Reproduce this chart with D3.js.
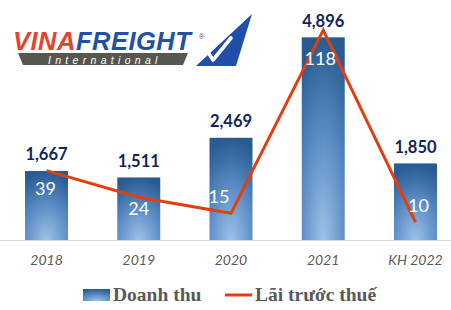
<!DOCTYPE html>
<html>
<head>
<meta charset="utf-8">
<script src="https://cdn.jsdelivr.net/npm/d3@7"></script>
<style>
  html, body { margin: 0; padding: 0; background: #fff; }
  svg { display: block; }
</style>
</head>
<body>
<svg id="chart" width="451" height="310"></svg>
<script>
const years   = ["2018", "2019", "2020", "2021", "KH 2022"]
const revenue = [1667, 1511, 2469, 4896, 1850]   // Doanh thu
const profit  = [39, 24, 15, 118, 10]            // Lãi trước thuế
const legendLabels = ["Doanh thu", "Lãi trước thuế"]

// manual label nudges for the profit labels (as placed in the original)
const profitNudge = [[-1, 24], [0, 18], [-12, -10], [-3, 35], [3, -10]]

const W = 451, H = 310
const baseY = 240
const svg = d3.select("#chart")

const x = d3.scaleBand().domain(years).range([0.4, 461.6])
  .paddingInner(0.534).paddingOuter(0.267)
const yRev = d3.scaleLinear().domain([0, 5000]).range([baseY, 33])
const yPro = d3.scaleLinear().domain([0, 120]).range([baseY, 26.5])

const defs = svg.append("defs")
const grad = defs.append("radialGradient").attr("id", "barGrad")
  .attr("cx", "50%").attr("cy", "100%").attr("r", "100%")
  .attr("fx", "50%").attr("fy", "100%")
grad.append("stop").attr("offset", "0%").attr("stop-color", "#9cc2e8")
grad.append("stop").attr("offset", "55%").attr("stop-color", "#5889c2")
grad.append("stop").attr("offset", "100%").attr("stop-color", "#285b92")

// ---- logo ----
const logo = svg.append("g")
logo.append("polygon").attr("points", "252,14 196,66 236,66").attr("fill", "#1f4fa8")
logo.append("path").attr("d", "M204,46 L213,60 L231,38")
  .attr("fill", "none").attr("stroke", "#fff").attr("stroke-width", 3.6)
  .attr("stroke-linecap", "round").attr("stroke-linejoin", "round")
logo.append("polygon").attr("points", "18,53 188,53 183,65 23,65").attr("fill", "#56574f")
logo.append("text").attr("x", 48).attr("y", 63.5)
  .attr("font-family", "Liberation Sans, Arial").attr("font-style", "italic")
  .attr("font-size", 10.5).attr("letter-spacing", 4.3).attr("fill", "#fff")
  .text("International")
const brand = logo.append("text").attr("x", 13).attr("y", 49.5)
  .attr("font-family", "Liberation Sans, Arial").attr("font-weight", "bold")
  .attr("font-style", "italic").attr("font-size", 25.5).attr("letter-spacing", 0.5)
brand.append("tspan").attr("fill", "#e5432b").text("VINA")
brand.append("tspan").attr("fill", "#2150a6").text("FREIGHT")
logo.append("text").attr("x", 199).attr("y", 39)
  .attr("font-family", "Liberation Sans, Arial").attr("font-size", 7).attr("fill", "#2150a6")
  .text("®")

// ---- axis line ----
svg.append("line").attr("x1", 0).attr("x2", W).attr("y1", baseY + 0.5).attr("y2", baseY + 0.5)
  .attr("stroke", "#d9d9d9").attr("stroke-width", 1.2)

// ---- bars ----
svg.append("g").selectAll("rect").data(years).join("rect")
  .attr("x", d => x(d))
  .attr("width", x.bandwidth())
  .attr("y", (d, i) => yRev(revenue[i]))
  .attr("height", (d, i) => baseY - yRev(revenue[i]))
  .attr("fill", "url(#barGrad)")

// revenue labels
svg.append("g").selectAll("text").data(years).join("text")
  .attr("x", d => x(d) + x.bandwidth() / 2)
  .attr("y", (d, i) => yRev(revenue[i]) - 10.5)
  .attr("text-anchor", "middle")
  .attr("font-family", "Lato, 'Open Sans', sans-serif").attr("font-weight", "bold")
  .attr("font-size", 16.5).attr("fill", "#10265a")
  .text((d, i) => d3.format(",")(revenue[i]))

// ---- profit line ----
const cx = d => x(d) + x.bandwidth() / 2
const line = d3.line().x(d => cx(d)).y((d, i) => yPro(profit[i]))
svg.append("path").datum(years)
  .attr("d", line)
  .attr("fill", "none").attr("stroke", "#e0400f").attr("stroke-width", 3)
  .attr("stroke-linejoin", "miter")

// profit labels
svg.append("g").selectAll("text").data(years).join("text")
  .attr("x", (d, i) => cx(d) + profitNudge[i][0])
  .attr("y", (d, i) => yPro(profit[i]) + profitNudge[i][1])
  .attr("text-anchor", "middle")
  .attr("font-family", "Lato, 'Open Sans', sans-serif")
  .attr("font-size", 18).attr("fill", "#fff")
  .text((d, i) => profit[i])

// ---- category labels ----
svg.append("g").selectAll("text").data(years).join("text")
  .attr("x", d => cx(d))
  .attr("y", 265)
  .attr("text-anchor", "middle")
  .attr("font-family", "Lato, 'Open Sans', sans-serif").attr("font-style", "italic")
  .attr("font-size", 14).attr("fill", "#595959")
  .text(d => d)

// ---- legend ----
const lg = svg.append("g")
lg.append("rect").attr("x", 83).attr("y", 289).attr("width", 27).attr("height", 12)
  .attr("fill", "url(#barGrad)")
lg.append("text").attr("x", 113).attr("y", 301)
  .attr("font-family", "Liberation Serif, 'Times New Roman', serif").attr("font-weight", "bold")
  .attr("font-size", 19.5).attr("fill", "#595959")
  .text(legendLabels[0])
lg.append("line").attr("x1", 225).attr("x2", 252).attr("y1", 295).attr("y2", 295)
  .attr("stroke", "#e0400f").attr("stroke-width", 3)
lg.append("text").attr("x", 255).attr("y", 301)
  .attr("font-family", "Liberation Serif, 'Times New Roman', serif").attr("font-weight", "bold")
  .attr("font-size", 19.5).attr("fill", "#595959")
  .text(legendLabels[1])
</script>
</body>
</html>
